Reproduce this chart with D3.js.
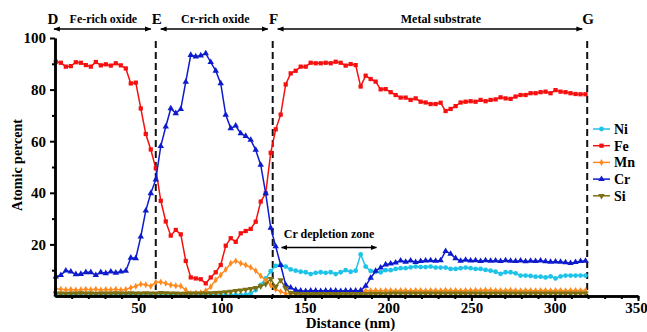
<!DOCTYPE html>
<html>
<head>
<meta charset="utf-8">
<script src="https://cdn.jsdelivr.net/npm/d3@7"></script>
<style>
body { margin: 0; background: #fff; }
svg { display: block; font-family: "Liberation Serif", "Times New Roman", serif; font-weight: bold; }
</style>
</head>
<body>
<svg id="drawing_region"></svg>
<script>
// sampling positions along the depth profile (nm), one every 3 nm
const distance = d3.range(0.5, 320, 3);

const ni = [0.3,0.3,0.2,0.3,0.3,0.3,0.2,0.3,0.3,0.3,0.3,0.2,0.3,0.3,0.3,0.3,0.3,0.3,0.3,0.3,
  0.3,0.3,0.3,0.3,0.3,0.3,0.3,0.3,0.3,0.3,0.3,0.3,0.3,0.3,0.3,0.3,0.3,0.4,
  0.5,1,2.3,4.3,6.8,9.6,11.7,12,11.4,10.3,9.8,9.4,
  9.2,8.5,9,9.2,9,9.2,8.5,9.2,10,9.4,9.8,16.1,11.4,9.7,9.4,9.2,10,10,10.5,10.8,
  10.8,11.1,11.4,11.2,11.2,11.4,11,11,11,10.5,10.5,10.8,11,10.8,10.5,10.5,10.1,9.8,9.4,8.6,
  9.2,9.2,8.8,7.9,7.9,7.8,7.5,7.5,7.2,7.6,6.8,7.6,7.9,7.9,7.9,7.9,7.9];

const fe = [90.8,90.4,88.9,89.1,90.6,90.4,89.5,88.9,90.7,89.4,89.8,89.3,90.2,89.4,88.2,
  82.4,82.7,72.7,62.8,56.8,49.5,36.9,28.9,23.4,25.6,23.9,13.6,7.2,6.8,6.5,
  4.9,7.2,9.2,12,19.5,22.4,21,24.3,25.2,26,28.8,36.6,39.8,55.5,64.6,70.3,82,86.3,87.3,88.9,
  88.9,90.4,90.2,90.2,90.4,90.2,90.8,90.4,89.3,89.9,89.5,81.2,85.4,84.1,83.1,80.1,80.2,79,77.9,76.9,
  76.9,76,76.6,75.3,75,74.4,74.4,74.9,71.7,72.5,73.6,75,75.3,75.5,75.3,76,75.5,76,76.2,77,
  76.6,76.4,77.3,77.9,77.9,78.6,78.6,79,79.2,78.6,79.8,79.2,79,78.6,78.3,78.2,78.2];

const mn = [2.8,2.6,2.4,2.5,2.3,2.4,2.6,2.4,2.6,2.3,2.5,2.4,2.6,2.3,
  2.5,3.2,3.8,4.6,4.4,3.8,5.3,5.4,4.9,4.3,4,3.9,2.3,1,1.2,1.3,
  2,3.6,6.2,8.1,10.3,12.7,13.6,12.7,12,11.1,9.8,7.8,6.2,4.3,2.6,1.7,1,0.9,0.9,0.9,
  1,1,1,1,1,1.1,1.1,1.2,1.3,1.4,1.6,1.8,2,2,2.1,2,2.1,2.1,2,2.1,
  2.1,2,2.1,2.1,2,2.1,2.1,2,2.2,2.1,2.1,2,2.1,2.1,2.2,2.1,2.3,2.2,2.1,2.1,
  2.1,2.2,2.1,2,2.1,2.1,2,2.1,2.1,2,2.1,2.1,2,2.1,2.1,2.1,2.1];

const cr = [7.5,8.1,9.8,9.4,8.4,8.5,9.2,9.2,8.1,9.2,8.8,9.4,9,9.4,9.7,
  14.8,14.6,23,33.1,39.8,45.1,58.1,65.6,72.7,70.8,72.4,83,93.4,92.8,93.2,
  94,90.6,87.3,82.4,70.2,65,66,63,62,60.5,56.6,50.8,39.8,26.4,19.2,12,4.3,3.2,2.3,2,
  1.9,2,2,1.9,2,2,2,1.9,2,2,2,2.1,3.9,7,9.7,11,12.2,12.5,12.9,13.7,
  13.2,13.7,13.1,13.5,13.7,13.8,13.6,13.8,17.4,16.3,14.6,13.6,14,13.7,13.8,13.5,13.8,13.6,13.7,13.5,
  13.8,13.6,13.5,13.7,13.4,13.6,13.5,13.7,13.4,13.2,13.3,13.2,13,12.7,13.1,13.5,13.6];

const si = [1,1,0.9,1,1,1.1,1,1,0.9,1,1,1,1.1,1,1,1.1,1,1,1.1,1,1,1.2,1.1,1,1,0.9,0.9,1,1,1,
  1,1.1,1.2,1.3,1.5,1.7,2,2.2,2.5,2.8,3.2,3.8,4.6,6.6,3.6,6.2,3,1.2,0.9,0.8,
  0.8,0.8,0.7,0.8,0.8,0.8,0.7,0.8,0.8,0.8,0.8,0.8,0.8,0.9,0.9,0.9,0.9,1,1,1,
  1,1,1,1,1,1,1,1,1,1,1,1,1,1,1,1,1,1,1,1,
  1,1,1,1,1,1,1,1,1,1,1,1,1,1,1,1,1];

const seriesNames = ['Ni', 'Fe', 'Mn', 'Cr', 'Si'];
const seriesValues = [ni, fe, mn, cr, si];
const seriesColors = ['#1ec3e8', '#f50f0f', '#ff8a1e', '#0d1bcc', '#7d7012'];
const seriesSymbols = [d3.symbolCircle, d3.symbolSquare, d3.symbolDiamond, d3.symbolTriangle, d3.symbolTriangle];

const xTicks = [50, 100, 150, 200, 250, 300, 350];
const yTicks = [20, 40, 60, 80, 100];

// zone boundaries D, E, F, G (nm) and their labels
const boundaryNames = ['D', 'E', 'F', 'G'];
const boundaries = [0, 60.5, 130.7, 319.5];
const zoneNames = ['Fe-rich oxide', 'Cr-rich oxide', 'Metal substrate'];
const depletionZone = [136, 193];

const config = {
  width: 647, height: 332,
  margin: {top: 38, right: 9, bottom: 36, left: 55}
};

const svg = d3.select('#drawing_region')
  .attr('width', config.width)
  .attr('height', config.height);

const innerW = config.width - config.margin.left - config.margin.right;
const innerH = config.height - config.margin.top - config.margin.bottom;

const chart = svg.append('g')
  .attr('transform', `translate(${config.margin.left}, ${config.margin.top})`);

const xscale = d3.scaleLinear().domain([0, 350]).range([0, innerW]);
const yscale = d3.scaleLinear().domain([0, 100]).range([innerH, 0]);

// dashed boundaries E, F, G
chart.selectAll('.bound')
  .data(boundaries.slice(1))
  .enter().append('line')
  .attr('x1', d => xscale(d)).attr('x2', d => xscale(d))
  .attr('y1', 3).attr('y2', innerH)
  .attr('stroke', '#111').attr('stroke-width', 2)
  .attr('stroke-dasharray', '7,4');

// series
const line = d3.line()
  .x((d, i) => xscale(distance[i]))
  .y(d => yscale(d));

seriesValues.forEach((vals, k) => {
  const g = chart.append('g');
  g.append('path')
    .datum(vals)
    .attr('fill', 'none')
    .attr('stroke', seriesColors[k])
    .attr('stroke-width', 1.5)
    .attr('d', line);
  g.selectAll('path.pt')
    .data(vals)
    .enter().append('path')
    .attr('class', 'pt')
    .attr('d', d3.symbol().type(seriesSymbols[k]).size(k === 2 ? 14 : 18))
    .attr('transform', (d, i) => `translate(${xscale(distance[i])}, ${yscale(d)})` + (k === 4 ? ' rotate(180)' : ''))
    .attr('fill', seriesColors[k]);
});

// axes
const xaxis = d3.axisBottom(xscale).tickValues(xTicks).tickSize(5).tickSizeOuter(0);
const xminor = d3.axisBottom(xscale).tickValues(d3.range(10, 351, 10)).tickSize(3).tickFormat('').tickSizeOuter(0);
const yaxis = d3.axisLeft(yscale).tickValues(yTicks).tickSize(5).tickSizeOuter(0);
const yminor = d3.axisLeft(yscale).tickValues(d3.range(10, 100, 20)).tickSize(3).tickFormat('').tickSizeOuter(0);

const xg = chart.append('g').attr('transform', `translate(0, ${innerH})`).call(xminor);
const xg2 = chart.append('g').attr('transform', `translate(0, ${innerH})`).call(xaxis);
const yg = chart.append('g').call(yminor);
const yg2 = chart.append('g').call(yaxis);

[xg, xg2, yg, yg2].forEach(g => {
  g.attr('font-family', null).attr('font-size', null);
  g.select('.domain').attr('stroke', '#000').attr('stroke-width', 2.5);
  g.selectAll('.tick line').attr('stroke', '#000').attr('stroke-width', 2);
  g.selectAll('.tick text')
    .attr('fill', '#000')
    .attr('font-family', '"Liberation Serif", "Times New Roman", serif')
    .attr('font-weight', 'bold')
    .attr('font-size', '15px');
});
xg2.selectAll('.tick text')
  .attr('dy', '0.6em')
  .attr('dx', d => d === 350 ? -2 : 0);
yg2.selectAll('.tick text').attr('dx', '-1px');

// axis titles
svg.append('text')
  .attr('x', config.margin.left + xscale(175) + 4)
  .attr('y', 328)
  .attr('text-anchor', 'middle')
  .attr('font-size', '15px')
  .text('Distance (nm)');

svg.append('text')
  .attr('transform', `translate(22, ${config.margin.top + yscale(50) - 2}) rotate(-90)`)
  .attr('text-anchor', 'middle')
  .attr('font-size', '14px')
  .text('Atomic percent');

// arrow heads
const defs = svg.append('defs');
defs.append('marker')
  .attr('id', 'arrowEnd')
  .attr('viewBox', '0 0 10 10')
  .attr('refX', 9).attr('refY', 5)
  .attr('markerWidth', 5).attr('markerHeight', 5)
  .attr('orient', 'auto')
  .append('path').attr('d', 'M0,1 L10,5 L0,9 Z').attr('fill', '#000');
defs.append('marker')
  .attr('id', 'arrowStart')
  .attr('viewBox', '0 0 10 10')
  .attr('refX', 1).attr('refY', 5)
  .attr('markerWidth', 5).attr('markerHeight', 5)
  .attr('orient', 'auto')
  .append('path').attr('d', 'M10,1 L0,5 L10,9 Z').attr('fill', '#000');

// zone labels above the plot
const zoneGroup = svg.append('g').attr('transform', `translate(${config.margin.left}, 0)`);
zoneGroup.selectAll('.bname')
  .data(boundaryNames)
  .enter().append('text')
  .attr('x', (d, i) => xscale(boundaries[i]) + (i === 0 ? -2 : 1))
  .attr('y', 24)
  .attr('text-anchor', 'middle')
  .attr('font-size', '15px')
  .text(d => d);

zoneNames.forEach((name, i) => {
  const x0 = xscale(boundaries[i]) + (i === 0 ? -1 : 5);
  const x1 = xscale(boundaries[i + 1]) - 5;
  zoneGroup.append('line')
    .attr('x1', x0).attr('x2', x1)
    .attr('y1', 29).attr('y2', 29)
    .attr('stroke', '#000').attr('stroke-width', 1.3)
    .attr('marker-start', 'url(#arrowStart)')
    .attr('marker-end', 'url(#arrowEnd)');
  zoneGroup.append('text')
    .attr('x', i === 2 ? (x0 + x1) / 2 + 11 : (x0 + x1) / 2 + 1)
    .attr('y', 23)
    .attr('text-anchor', 'middle')
    .attr('font-size', '12px')
    .text(name);
});

// Cr depletion zone
chart.append('line')
  .attr('x1', xscale(depletionZone[0])).attr('x2', xscale(depletionZone[1]))
  .attr('y1', yscale(18.8)).attr('y2', yscale(18.8))
  .attr('stroke', '#000').attr('stroke-width', 1.3)
  .attr('marker-start', 'url(#arrowStart)')
  .attr('marker-end', 'url(#arrowEnd)');
chart.append('text')
  .attr('x', (xscale(depletionZone[0]) + xscale(depletionZone[1])) / 2)
  .attr('y', yscale(22.5))
  .attr('text-anchor', 'middle')
  .attr('font-size', '12px')
  .text('Cr depletion zone');

// legend
const legend = svg.append('g').attr('transform', 'translate(593, 129)');
seriesNames.forEach((name, k) => {
  const g = legend.append('g').attr('transform', `translate(0, ${k * 16.7})`);
  g.append('line').attr('x1', 0).attr('x2', 17).attr('y1', 0).attr('y2', 0)
    .attr('stroke', seriesColors[k]).attr('stroke-width', 1.5);
  g.append('path')
    .attr('d', d3.symbol().type(seriesSymbols[k]).size(k === 2 ? 14 : 18))
    .attr('transform', 'translate(8.5, 0)' + (k === 4 ? ' rotate(180)' : ''))
    .attr('fill', seriesColors[k]);
  g.append('text')
    .attr('x', 21).attr('y', 5)
    .attr('font-size', '14px')
    .text(name);
});
</script>
</body>
</html>
